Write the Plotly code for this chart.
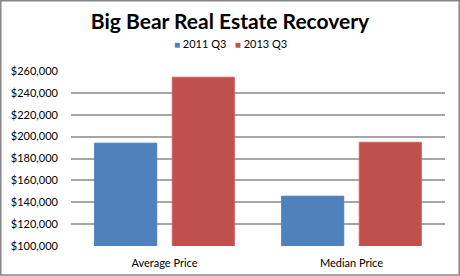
import plotly.graph_objects as go

categories = ["Average Price", "Median Price"]
series_names = ["2011 Q3", "2013 Q3"]
series_colors = ["#4F81BD", "#C0504D"]
values_2011 = [194000, 145500]
values_2013 = [254300, 194800]
tick_vals = [100000, 120000, 140000, 160000, 180000, 200000, 220000, 240000, 260000]
tick_text = ["$100,000", "$120,000", "$140,000", "$160,000", "$180,000",
             "$200,000", "$220,000", "$240,000", "$260,000"]
title_text = "Big Bear Real Estate Recovery"

W, H = 460, 276
L, R, T, B = 71, 15, 71, 30
pw, ph = W - L - R, H - T - B

fig = go.Figure()
fig.add_trace(go.Bar(x=categories, y=values_2011, name=series_names[0],
                     marker=dict(color=series_colors[0], line=dict(color="#4A7EBB", width=1))))
fig.add_trace(go.Bar(x=categories, y=values_2013, name=series_names[1],
                     marker=dict(color=series_colors[1], line=dict(color="#D0605C", width=1))))

def px_x(p):
    return (p - L) / pw

def px_y(p):
    return (H - B - p) / ph

fig.add_shape(type="rect", xref="paper", yref="paper",
              x0=px_x(0.75), x1=px_x(459.25), y0=px_y(275.0), y1=px_y(0.75),
              line=dict(color="#868686", width=1.5), fillcolor="rgba(0,0,0,0)", layer="above")

legend_html = "&nbsp;&nbsp;&nbsp;".join(
    f"<span style='color:{c};font-size:10px'>■</span> {n}"
    for c, n in zip(series_colors, series_names))
fig.add_annotation(text=legend_html, xref="paper", yref="paper",
                   x=px_x(230.5), y=px_y(44), xanchor="center", yanchor="middle",
                   showarrow=False, font=dict(family="Lato", size=11, color="black"))

fig.update_layout(
    width=W, height=H,
    margin=dict(l=L, r=R, t=T, b=B),
    paper_bgcolor="white", plot_bgcolor="white",
    barmode="group", bargap=0.17, bargroupgap=0.2,
    title=dict(text="<b>" + title_text + "</b>", x=0.5, xanchor="center",
               xref="container", yref="container", y=1 - 22 / H, yanchor="middle",
               font=dict(family="Lato", size=21, color="black")),
    showlegend=False,
    font=dict(family="Lato", size=11, color="black"),
    xaxis=dict(showgrid=False, showline=False, ticks="", tickfont=dict(size=11),
               ticklabelstandoff=9, automargin=False),
    yaxis=dict(range=[100000, 260000], tickvals=tick_vals, ticktext=tick_text,
               showgrid=True, gridcolor="#A6A6A6", gridwidth=1.5,
               zeroline=False, showline=False, ticks="", ticklabelstandoff=12,
               tickfont=dict(size=11), automargin=False),
)

fig.write_html("out.html")
